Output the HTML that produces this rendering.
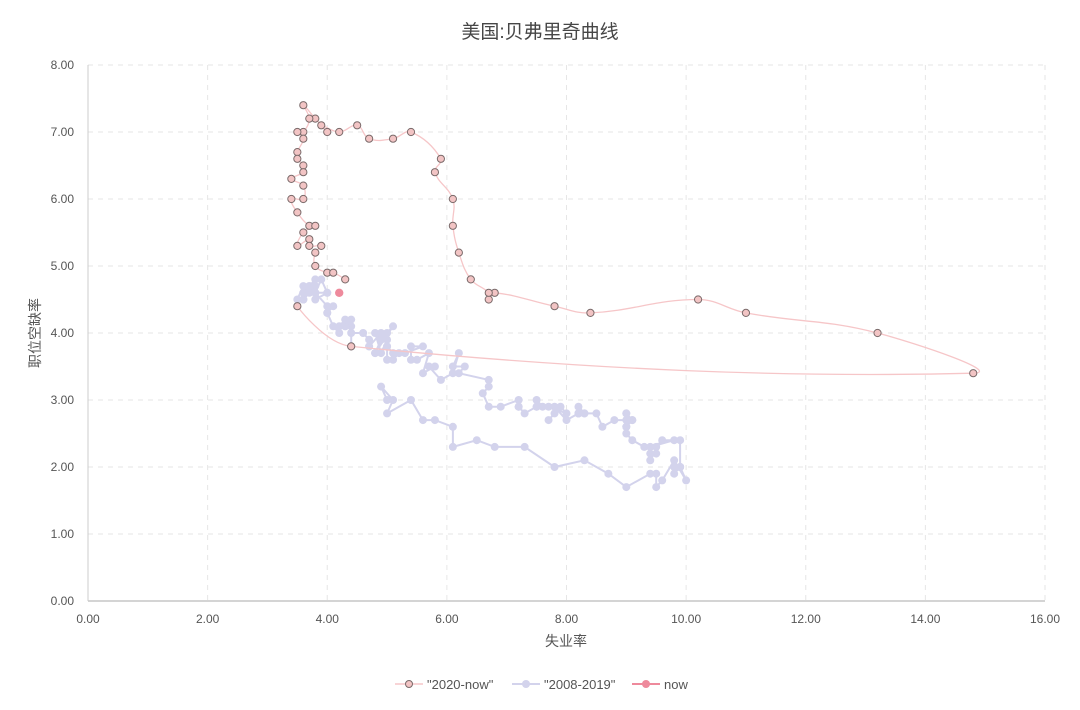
<!DOCTYPE html>
<html><head><meta charset="utf-8"><style>
html,body{margin:0;padding:0;background:#fff;}
svg text{font-family:"Liberation Sans","Noto Sans CJK SC",sans-serif;}
</style></head><body>
<svg id="chart" width="1080" height="705" viewBox="0 0 1080 705" xmlns="http://www.w3.org/2000/svg">
<text x="540" y="38" text-anchor="middle" font-size="19" fill="#464646">美国:贝弗里奇曲线</text>
<g id="grid"></g>
<g id="axes"></g>
<g id="series"></g>
<text x="566" y="646" text-anchor="middle" font-size="14" fill="#555">失业率</text>
<text transform="translate(40,333) rotate(-90)" text-anchor="middle" font-size="14" fill="#555">职位空缺率</text>
<g>
 <g>
  <line x1="395" y1="684" x2="423" y2="684" stroke="#f6c6c8" stroke-width="1.5"/>
  <circle cx="409" cy="684" r="3.5" fill="#f2c4c4" stroke="#7a6a6a" stroke-width="1"/>
  <text x="427" y="689" font-size="13" fill="#555">"2020-now"</text>
 </g>
 <g>
  <line x1="512" y1="684" x2="540" y2="684" stroke="#d3d3ec" stroke-width="2"/>
  <circle cx="526" cy="684" r="4" fill="#d3d3ec"/>
  <text x="544" y="689" font-size="13" fill="#555">"2008-2019"</text>
 </g>
 <g>
  <line x1="632" y1="684" x2="660" y2="684" stroke="#ee8a9c" stroke-width="2"/>
  <circle cx="646" cy="684" r="4" fill="#ee8a9c"/>
  <text x="664" y="689" font-size="13" fill="#555">now</text>
 </g>
</g>
</svg>
<script>
const xTicks = [0,2,4,6,8,10,12,14,16];
const yTicks = [0,1,2,3,4,5,6,7,8];
const u2020 = [3.5,4.4,14.8,13.2,11.0,10.2,8.4,7.8,6.8,6.7,6.7,6.4,6.2,6.1,6.1,5.8,5.9,5.4,5.1,4.7,4.5,4.2,3.9,4.0,3.8,3.6,3.7,3.6,3.5,3.6,3.5,3.5,3.6,3.6,3.4,3.6,3.6,3.4,3.5,3.7,3.8,3.6,3.5,3.7,3.7,3.9,3.8,3.8,4.0,4.1,4.3];
const v2020 = [4.4,3.8,3.4,4.0,4.3,4.5,4.3,4.4,4.6,4.5,4.6,4.8,5.2,5.6,6.0,6.4,6.6,7.0,6.9,6.9,7.1,7.0,7.1,7.0,7.2,7.4,7.2,7.0,7.0,6.9,6.7,6.6,6.5,6.4,6.3,6.2,6.0,6.0,5.8,5.6,5.6,5.5,5.3,5.4,5.3,5.3,5.2,5.0,4.9,4.9,4.8];
const u0819 = [5.0,4.9,5.1,5.0,5.4,5.6,5.8,6.1,6.1,6.5,6.8,7.3,7.8,8.3,8.7,9.0,9.4,9.5,9.5,9.6,9.8,10.0,9.9,9.9,9.8,9.8,9.9,9.9,9.6,9.4,9.4,9.5,9.5,9.4,9.8,9.3,9.1,9.0,9.0,9.1,9.0,9.1,9.0,9.0,9.0,8.8,8.6,8.5,8.3,8.3,8.2,8.2,8.2,8.2,8.2,8.0,7.8,7.8,7.7,7.9,8.0,7.7,7.5,7.6,7.5,7.5,7.3,7.2,7.2,7.2,6.9,6.7,6.6,6.7,6.7,6.2,6.3,6.1,6.2,6.1,5.9,5.7,5.8,5.6,5.7,5.5,5.4,5.4,5.6,5.3,5.2,5.1,5.0,5.0,5.1,5.0,4.8,4.9,5.0,5.1,4.8,4.9,4.8,4.9,5.0,4.9,4.7,4.7,4.7,4.6,4.4,4.4,4.4,4.3,4.3,4.4,4.3,4.2,4.2,4.1,4.0,4.1,4.0,4.0,3.8,4.0,3.8,3.8,3.7,3.8,3.8,3.9,4.0,3.8,3.8,3.7,3.6,3.6,3.7,3.6,3.5,3.6,3.6,3.6];
const v0819 = [3.0,3.2,3.0,2.8,3.0,2.7,2.7,2.6,2.3,2.4,2.3,2.3,2.0,2.1,1.9,1.7,1.9,1.9,1.7,1.8,2.1,1.8,2.0,2.0,1.9,2.0,2.0,2.4,2.4,2.1,2.2,2.2,2.3,2.3,2.4,2.3,2.4,2.5,2.6,2.7,2.8,2.7,2.6,2.8,2.7,2.7,2.6,2.8,2.8,2.8,2.9,2.8,2.8,2.8,2.8,2.7,2.9,2.8,2.7,2.9,2.8,2.9,2.9,2.9,3.0,2.9,2.8,2.9,2.9,3.0,2.9,2.9,3.1,3.2,3.3,3.4,3.5,3.5,3.7,3.4,3.3,3.5,3.5,3.4,3.7,3.6,3.6,3.8,3.8,3.7,3.7,3.6,3.6,3.8,3.7,3.8,3.7,3.9,4.0,4.1,3.7,3.9,4.0,3.7,3.9,4.0,3.8,3.8,3.9,4.0,4.0,3.8,4.1,4.1,4.1,4.2,4.2,4.1,4.0,4.1,4.3,4.4,4.3,4.4,4.6,4.6,4.6,4.7,4.7,4.6,4.6,4.8,4.6,4.5,4.8,4.7,4.6,4.5,4.6,4.7,4.5,4.5,4.5,4.6];
const uNow = [4.2];
const vNow = [4.6];

const X0=88, X1=1045, Y0=601, Y1=65;
const sx = v => X0 + (v-0)/(16-0)*(X1-X0);
const sy = v => Y0 - (v-0)/(8-0)*(Y0-Y1);
const NS='http://www.w3.org/2000/svg';
function mk(tag, attrs, parent){const e=document.createElementNS(NS,tag);for(const k in attrs)e.setAttribute(k,attrs[k]);parent.appendChild(e);return e;}
const grid=document.getElementById('grid'), axes=document.getElementById('axes'), ser=document.getElementById('series');

xTicks.forEach(t=>{
  if(t>0){const l=mk('line',{x1:sx(t),x2:sx(t),y1:Y1,y2:Y0,stroke:'#e6e6e6','stroke-dasharray':'5,5'},grid);
  
  }
  const tx=mk('text',{x:sx(t),y:Y0+22,'text-anchor':'middle','font-size':12,fill:'#555'},axes);
  tx.textContent=t.toFixed(2);
  
  
});
yTicks.forEach(t=>{
  if(t>0){const l=mk('line',{x1:X0,x2:X1,y1:sy(t),y2:sy(t),stroke:'#e6e6e6','stroke-dasharray':'5,5'},grid);
  
  }
  const tx=mk('text',{x:X0-14,y:sy(t)+4,'text-anchor':'end','font-size':12,fill:'#555'},axes);
  tx.textContent=t.toFixed(2);
  
  
});
const xa=mk('line',{x1:X0,x2:X1,y1:Y0,y2:Y0,stroke:'#aaa'},axes);


const ya=mk('line',{x1:X0,x2:X0,y1:Y1,y2:Y0,stroke:'#ccc'},axes);



// 2008-2019 series
let d='';
u0819.forEach((u,i)=>{d+=(i?'L':'M')+sx(u).toFixed(1)+','+sy(v0819[i]).toFixed(1);});
const p1=mk('path',{d:d,fill:'none',stroke:'#d3d3ec','stroke-width':2},ser);


u0819.forEach((u,i)=>{
  const c=mk('circle',{cx:sx(u),cy:sy(v0819[i]),r:4,fill:'#d3d3ec'},ser);
  
  
});

// 2020-now smooth curve (echarts-like smoothing)
const pts=u2020.map((u,i)=>[sx(u),sy(v2020[i])]);
const S=0.4;
const cpIn=[],cpOut=[];
for(let i=0;i<pts.length;i++){
  const p=pts[i];
  if(i===0||i===pts.length-1){cpIn.push(p);cpOut.push(p);continue;}
  const a=pts[i-1],b=pts[i+1];
  const vx=b[0]-a[0],vy=b[1]-a[1];
  const d0=Math.hypot(p[0]-a[0],p[1]-a[1]),d1=Math.hypot(b[0]-p[0],b[1]-p[1]);
  const t=d0+d1||1;
  cpIn.push([p[0]-vx*S*d0/t,p[1]-vy*S*d0/t]);
  cpOut.push([p[0]+vx*S*d1/t,p[1]+vy*S*d1/t]);
}
let d2='M'+pts[0][0].toFixed(1)+','+pts[0][1].toFixed(1);
for(let i=0;i<pts.length-1;i++){
  const c1=cpOut[i],c2=cpIn[i+1],b=pts[i+1];
  d2+='C'+c1[0].toFixed(1)+','+c1[1].toFixed(1)+' '+c2[0].toFixed(1)+','+c2[1].toFixed(1)+' '+b[0].toFixed(1)+','+b[1].toFixed(1);
}
const p2=mk('path',{d:d2,fill:'none',stroke:'#f6c6c8','stroke-width':1.3},ser);


pts.forEach(p=>{
  const c=mk('circle',{cx:p[0],cy:p[1],r:3.6,fill:'#f2c4c4',stroke:'#7a6a6a','stroke-width':1},ser);
  
  
});

// now
uNow.forEach((u,i)=>{
  const c=mk('circle',{cx:sx(u),cy:sy(vNow[i]),r:4.2,fill:'#ee8a9c'},ser);
  
  
});
</script>
</body></html>
